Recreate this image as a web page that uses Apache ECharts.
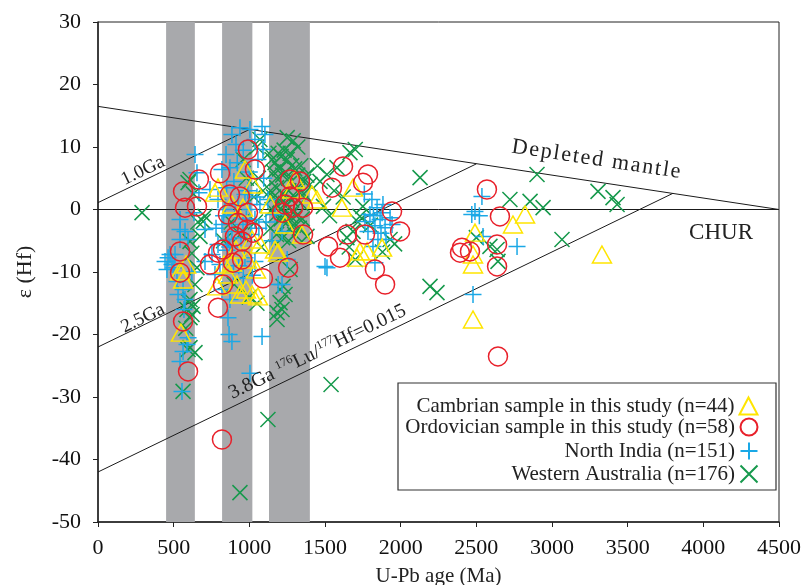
<!DOCTYPE html>
<html><head><meta charset="utf-8">
<script src="https://cdn.jsdelivr.net/npm/echarts@6/dist/echarts.min.js"></script>
<style>html,body{margin:0;padding:0;background:#fff}#c{width:809px;height:585px}</style>
</head><body><div id="c"></div>
<script>
// ---------- axes ----------
const xMin = 0, xMax = 4500, xStep = 500;
const yMin = -50, yMax = 30, yStep = 10;
const xAxisTitle = 'U-Pb age (Ma)';
const yAxisTitle = 'ε (Hf)';

// ---------- series names ----------
const nameCambrian = 'Cambrian sample in this study (n=44)';
const nameOrdovician = 'Ordovician sample in this study (n=58)';
const nameNorthIndia = 'North India (n=151)';
const nameWAustralia = 'Western Australia (n=176)';

// ---------- reference lines [age, eHf] ----------
const depletedMantle = [[0,16.5],[4500,0]];
const line10Ga = [[0,1.1],[1000,12.8]];
const line25Ga = [[0,-22],[2500,7.3]];
const line38Ga = [[0,-42],[3800,2.6]];
const churLine = [[0,0],[4500,0]];
const grayBands = [[450,640],[820,1020],[1130,1400]];

// ---------- data [age (Ma), eHf] ----------
const cambrian = [[548,-19.7],[562,-11.2],[582,-8.8],[542,-9.9],[773,2.7],[793,3.5],[833,-8.8],[859,-10.4],[918,-12],[938,-13.6],[978,-12.8],[1018,-13.6],[1018,-4.8],[1024,4],[1044,-9.6],[985,-8],[912,-6.4],[971,6.4],[1070,-5.6],[885,0.8],[958,0.3],[786,-12.3],[885,-8.5],[1057,-13.9],[1170,-6.4],[1236,-2.4],[1282,3.2],[1348,-4],[1414,2.4],[1137,0.8],[1302,4.8],[1190,-6.9],[1447,1.6],[1612,0.3],[1685,3.5],[1731,-6.7],[1778,-6.7],[1877,-6.1],[1711,-7.7],[2491,-3.7],[2478,-7.2],[2478,-8.8],[2478,-17.6],[2742,-2.4],[2822,-0.8],[3330,-7.2]];

const ordovician = [[542,-6.7],[542,-10.1],[562,-17.9],[595,-25.9],[562,2.9],[575,0.3],[654,0.5],[667,4.8],[740,-8.8],[793,-6.9],[806,5.8],[826,-12],[793,-15.7],[819,-36.8],[872,2.4],[938,2.1],[826,-6.4],[892,-8.5],[905,-4.3],[925,-2.1],[952,-5.1],[985,-3.2],[1024,-3.7],[991,-0.5],[991,9.6],[1037,6.4],[1090,-11],[1256,-9.3],[1269,4.8],[1335,4.5],[1269,2.1],[1236,0.8],[1355,0.3],[1216,-0.5],[1355,-4],[1289,0.3],[1619,6.9],[1546,3.5],[1784,5.6],[1751,4.3],[1943,-0.3],[1996,-3.5],[1764,-4],[1645,-4],[1520,-5.9],[1599,-7.7],[1830,-9.6],[1897,-12],[2405,-6.1],[2458,-6.7],[2392,-6.9],[2570,3.2],[2656,-1.1],[2637,-5.6],[2637,-9.1],[2643,-23.5],[859,-0.8],[952,-8]];

const northIndia = [[443,-8.3],[463,-7.7],[489,-8.8],[456,-9.6],[509,-7.2],[522,-11.5],[562,-12.8],[575,-14.4],[588,-21.6],[562,-22.7],[542,-24.3],[555,-29.1],[575,-3.5],[542,-1.6],[595,-4.8],[641,8.8],[654,5.9],[667,2.7],[542,-3.2],[542,-4.8],[502,-9.3],[476,-7.2],[529,-13.6],[568,-16],[595,-20.5],[620,-10],[634,-0.5],
[885,12],[938,13.1],[1004,12.8],[1084,13.3],[1103,12],[1037,11.2],[912,10.4],[846,8.8],[819,6.4],[872,6.7],[1057,8],[1090,9.6],[793,1.6],[839,0],[819,-2.4],[859,-4.8],[905,-0.8],[925,0.8],[971,2.4],[1004,0],[1037,-1.6],[1070,0.8],[958,-2.4],[885,-3.5],[793,-5.6],[753,-7.2],[707,-8.3],[773,-10.4],[819,-12.8],[872,-14.4],[859,-17.3],[866,-20],[885,-21.1],[1084,-20.3],[1004,-26.2],[971,-7.7],[1037,-8.3],[707,-3.2],[740,3.2],[806,-8.8],[852,-6.5],[898,4.5],[945,-4.5],[990,3],[1010,-4],[1050,2],[1063,-3],[920,7.5],[960,9.5],[1000,6],[830,-1],[780,-3],[895,-10],[930,-9],[960,-11],[1020,-10.5],[870,-6],[850,3.5],[980,-1.5],[1110,-2],[1095,5],
[1123,1.6],[1170,-0.8],[1216,-3.5],[1190,-12],[1216,-12],[1513,-9.3],[1150,-5],[1250,-8],
[1810,1.6],[1844,0.3],[1877,-0.5],[1864,-1.6],[1830,-2.6],[1784,-3.5],[1897,-2.9],[1930,-1.3],[1850,-4.8],[1817,-5.9],[1797,-0.8],[1903,-4.8],[1764,-1.9],[1830,-8.5],[1883,0.8],[1500,-9.1],[1943,-2.4],[1760,2.5],[1870,-3.8],[1820,-1],
[2537,2.1],[2491,-0.3],[2470,-0.8],[2544,-4.3],[2769,-5.9],[2478,-13.6],[2520,-1]];

const wAustralia = [[291,-0.5],
[595,4.3],[695,-1.9],[674,-4.3],[608,-5.1],[654,-9.3],[595,-14.7],[628,-15.5],[621,-16.8],[608,-14.4],[588,-16],[608,-17.3],[608,-22.1],[595,-22.4],[641,-22.9],[562,-29.1],[641,-12],[620,-7],[660,-2],[630,2.5],[580,-19],[608,4.8],[707,-1.1],
[1070,11.2],[1050,10],[960,8],[980,5],[1030,2],[1060,5],[880,-2],[830,-5],[900,-12],[1000,-14],[1050,-15],[940,-4],[1080,-6],[1090,3],[1040,-2],[938,-45.3],[1123,-33.6],
[1130,9],[1150,8],[1170,7.5],[1190,9],[1210,8.5],[1230,9.5],[1250,8],[1270,9],[1160,6],[1180,5],[1200,6.5],[1220,5.5],[1240,6],[1260,5],[1280,7],[1300,6.5],[1320,5.5],[1340,7],[1360,4.5],[1380,5.5],[1400,4],[1140,3],[1160,2],[1180,3.5],[1200,1.5],[1220,2.5],[1240,1],[1260,3],[1280,1.5],[1300,2],[1320,3],[1340,1],[1360,2.5],[1150,0],[1170,-1],[1190,0.5],[1210,-1.5],[1230,-0.5],[1250,-2],[1270,-1],[1290,-2.5],[1310,-1],[1330,-3],[1350,-1.5],[1140,-3],[1180,-4],[1220,-4.5],[1260,-5],[1300,-4],[1381,-4.3],[1269,-9.6],[1236,-13.6],[1216,-16],[1183,-17.6],[1203,-14.9],[1223,-12.3],[1183,-16.5],[1290,11],[1250,11.5],[1320,10],
[1513,5.6],[1467,4.5],[1579,6.7],[1665,9.1],[1700,9.6],[1450,7],[1490,0.5],[1530,-1],[1560,3],[1620,2],[1540,-28],
[1731,-1.1],[1718,-2],[1685,-3.5],[1930,-4.8],[1645,-4.5],[1750,0.5],[1800,-2.5],[1660,-6],[1960,-5.5],[1880,-6.8],[1700,-8],
[2128,5.1],[2240,-13.3],[2194,-12.3],
[2901,5.6],[2722,1.6],[2855,1.3],[2941,0.3],[3304,2.9],[3403,1.9],[3430,0.8],[3066,-4.8],[2637,-6.4],[2590,-5.9],[2643,-8.3],[2500,-4.5]];

// ---------- styling ----------
const FONT = '"Liberation Serif","Times New Roman",serif';
const TXT = '#222';
const C_YEL = '#ffe500', C_RED = '#e8202a', C_BLUE = '#1aa8e6', C_GREEN = '#16994c';
const PLUS = 'path://M0,8L16,8M8,0L8,16';
const CROSS = 'path://M0,0L16,16M16,0L0,16';

const chart = echarts.init(document.getElementById('c'), null, {renderer:'canvas'});

function refLine(data, extra) {
  return Object.assign({
    type:'line', data:data, symbol:'none', silent:true, z:3,
    lineStyle:{color:'#1a1a1a', width:1}, animation:false
  }, extra || {});
}
function scatter(name, data, symbol, size, color, z) {
  return {
    type:'scatter', name:name, data:data, symbol:symbol, symbolSize:size, z:z,
    itemStyle:{color:'none', borderColor:color, borderWidth:1.5, opacity:1},
    animation:false
  };
}
function legendFor(name, top) {
  return {
    data:[name], right:44, top:top, align:'right', orient:'vertical',
    itemWidth:18, itemHeight:17, selectedMode:false, z:20,
    textStyle:{fontFamily:FONT, fontSize:21, color:TXT}
  };
}
const plainNum = v => String(v);

chart.setOption({
  animation:false,
  grid:{left:98, right:30, top:22, bottom:63, show:true, borderColor:'#222', borderWidth:1, outerBoundsMode:'none'},
  xAxis:{
    type:'value', min:xMin, max:xMax, interval:xStep,
    name:xAxisTitle, nameLocation:'middle', nameGap:44,
    nameTextStyle:{fontFamily:FONT, fontSize:21, color:TXT},
    axisLine:{onZero:false, lineStyle:{color:'#222', width:1.5}},
    axisTick:{show:true, inside:false, length:5, lineStyle:{color:'#222'}},
    axisLabel:{fontFamily:FONT, fontSize:22, color:'#111', margin:15, formatter:plainNum},
    splitLine:{show:false}
  },
  yAxis:{
    type:'value', min:yMin, max:yMax, interval:yStep,
    name:yAxisTitle, nameLocation:'middle', nameGap:62,
    nameTextStyle:{fontFamily:FONT, fontSize:22, color:TXT},
    axisLine:{onZero:false, lineStyle:{color:'#222', width:1.5}},
    axisTick:{show:true, inside:false, length:5, lineStyle:{color:'#222'}},
    axisLabel:{fontFamily:FONT, fontSize:22, color:'#111', margin:17, formatter:plainNum},
    splitLine:{show:false}
  },
  legend:[
    legendFor(nameCambrian, 390),
    legendFor(nameOrdovician, 411),
    legendFor(nameNorthIndia, 435),
    legendFor(nameWAustralia, 458)
  ],
  series:[
    refLine(churLine, {
      z:1,
      markArea:{silent:true, itemStyle:{color:'#a8a9ac', opacity:1},
        data: grayBands.map(b => [{xAxis:b[0]}, {xAxis:b[1]}])}
    }),
    refLine(depletedMantle),
    refLine(line10Ga),
    refLine(line25Ga),
    refLine(line38Ga),
    scatter(nameWAustralia, wAustralia, CROSS, 15, C_GREEN, 5),
    scatter(nameNorthIndia, northIndia, PLUS, 17, C_BLUE, 6),
    scatter(nameCambrian, cambrian, 'triangle', [19,17], C_YEL, 7),
    scatter(nameOrdovician, ordovician, 'circle', 19, C_RED, 8)
  ]
});

// ---------- annotations positioned from data coordinates ----------
function px(p){ return chart.convertToPixel({gridIndex:0}, p); }
const slopeDeg = Math.atan2(px([0,-22])[1]-px([2500,7.3])[1], px([2500,7.3])[0]-px([0,-22])[0]) * 180/Math.PI;
const dmDeg = Math.atan2(px([0,16.5])[1]-px([4500,0])[1], px([4500,0])[0]-px([0,16.5])[0]) * 180/Math.PI;
const R = d => d*Math.PI/180;
const HS = '\u200A';
const spaced = s => s.split('').join(HS);
const annotations = [
  {text:'1.0Ga', at:[297,6.2], rot:slopeDeg, size:19},
  {text:'2.5Ga', at:[297,-17.4], rot:slopeDeg, size:19},
  {text:'3.8Ga {sup|176}Lu/{sup|177}Hf=0.015', at:[1450,-22.8], rot:slopeDeg, size:20},
  {text:spaced('Depleted mantle'), at:[3291,8.0], rot:dmDeg, size:22},
  {text:'CHUR', at:[4117,-3.7], rot:0, size:23}
];
const gfx = annotations.map(a => {
  const p = px(a.at);
  return {
    type:'text', x:p[0], y:p[1], rotation:R(a.rot), z:20,
    style:{
      text:a.text, fill:'#222', font: a.size + 'px ' + FONT,
      align:'center', verticalAlign:'middle',
      rich:{sup:{fontSize:12, fontFamily:FONT, fill:'#222', verticalAlign:'top', padding:[0,0,10,0]}}
    }
  };
});
gfx.push({type:'rect', shape:{x:398, y:383, width:378, height:107}, z:0,
  style:{fill:'none', stroke:'#333', lineWidth:1.2}});
chart.setOption({graphic:gfx});
</script>
</body></html>
